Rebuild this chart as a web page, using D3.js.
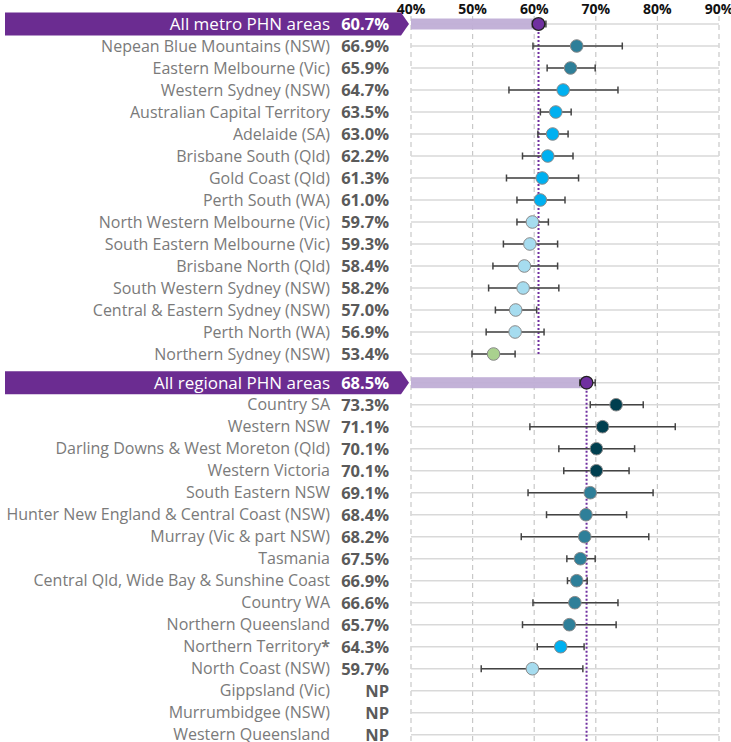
<!DOCTYPE html>
<html>
<head>
<meta charset="utf-8">
<script src="https://cdn.jsdelivr.net/npm/d3@7"></script>
<style>
  body { margin: 0; background: #fff; }
  svg { font-family: "Open Sans", "Noto Sans", sans-serif; }
</style>
</head>
<body>
<svg id="chart" width="731" height="742"></svg>
<script>
// Rows, in order top to bottom (headers first in each group)
const metroNames = ["All metro PHN areas", "Nepean Blue Mountains (NSW)", "Eastern Melbourne (Vic)", "Western Sydney (NSW)",
  "Australian Capital Territory", "Adelaide (SA)", "Brisbane South (Qld)", "Gold Coast (Qld)", "Perth South (WA)",
  "North Western Melbourne (Vic)", "South Eastern Melbourne (Vic)", "Brisbane North (Qld)", "South Western Sydney (NSW)",
  "Central & Eastern Sydney (NSW)", "Perth North (WA)", "Northern Sydney (NSW)"];
const metroValues = [60.7, 66.9, 65.9, 64.7, 63.5, 63.0, 62.2, 61.3, 61.0, 59.7, 59.3, 58.4, 58.2, 57.0, 56.9, 53.4];
const metroLow  = [59.7, 59.8, 62.1, 55.9, 61.0, 60.6, 58.1, 55.5, 57.2, 57.2, 55.0, 53.3, 52.6, 53.7, 52.2, 49.9];
const metroHigh = [61.9, 74.3, 69.9, 73.6, 66.0, 65.5, 66.3, 67.2, 65.0, 62.3, 63.8, 63.8, 64.0, 60.4, 61.6, 56.9];

const regionalNames = ["All regional PHN areas", "Country SA", "Western NSW", "Darling Downs & West Moreton (Qld)",
  "Western Victoria", "South Eastern NSW", "Hunter New England & Central Coast (NSW)", "Murray (Vic & part NSW)",
  "Tasmania", "Central Qld, Wide Bay & Sunshine Coast", "Country WA", "Northern Queensland", "Northern Territory",
  "North Coast (NSW)", "Gippsland (Vic)", "Murrumbidgee (NSW)", "Western Queensland"];
const regionalValues = [68.5, 73.3, 71.1, 70.1, 70.1, 69.1, 68.4, 68.2, 67.5, 66.9, 66.6, 65.7, 64.3, 59.7, null, null, null];
const regionalLow  = [67.4, 69.1, 59.3, 64.0, 64.8, 59.0, 62.0, 57.9, 65.3, 65.4, 59.8, 58.1, 60.5, 51.4, null, null, null];
const regionalHigh = [69.9, 77.7, 82.9, 76.3, 75.4, 79.3, 75.0, 78.6, 69.9, 68.6, 73.6, 73.3, 68.1, 67.9, null, null, null];
const footnoted = ["Northern Territory"];

const ticks = [40, 50, 60, 70, 80, 90];

// colour bands
const bandBreaks = [55, 60, 65, 70];
const bandColors = ["#a9d18e", "#a6dcef", "#00b0f0", "#2e7f99", "#003f4f"];
const headerColor = "#6b2c91";
const headerBar = "#c0aed6";

const rows = [];
metroNames.forEach((n, i) => rows.push({name: n, value: metroValues[i], lo: metroLow[i], hi: metroHigh[i], header: i === 0, group: 0, idx: i}));
regionalNames.forEach((n, i) => rows.push({name: n, value: regionalValues[i], lo: regionalLow[i], hi: regionalHigh[i], header: i === 0, group: 1, idx: metroNames.length + i}));

const svg = d3.select("#chart");

const x = d3.scaleLinear().domain([40, 90]).range([411, 719]);
const rowScale = d3.scaleLinear().domain([0, 1]).range([24, 46]);
const groupGap = 6.7;
const y = d => rowScale(d.idx) + (d.group ? groupGap : 0);
const color = d3.scaleThreshold().domain(bandBreaks).range(bandColors);

const labelX = 330, valueX = 389;

// vertical dashed grid
svg.append("g").selectAll("line")
  .data(ticks)
  .join("line")
    .attr("x1", d => x(d)).attr("x2", d => x(d))
    .attr("y1", 16).attr("y2", 742)
    .attr("stroke", "#c8c8c8")
    .attr("stroke-width", 1.2)
    .attr("stroke-dasharray", "5,4");

// top axis labels
svg.append("g").selectAll("text")
  .data(ticks)
  .join("text")
    .attr("x", d => x(d))
    .attr("y", 14)
    .attr("text-anchor", "middle")
    .style("font-size", "14px")
    .style("font-weight", "bold")
    .attr("fill", "#111")
    .text(d => d + "%");

// header banners
const headers = rows.filter(d => d.header);
svg.append("g").selectAll("path")
  .data(headers)
  .join("path")
    .attr("d", d => {
      const c = y(d), h = 11.5;
      return `M5,${c - h}L401,${c - h}L409,${c}L401,${c + h}L5,${c + h}Z`;
    })
    .attr("fill", headerColor);

// horizontal row lines
svg.append("g").selectAll("line")
  .data(rows)
  .join("line")
    .attr("x1", x(40)).attr("x2", x(90))
    .attr("y1", d => y(d)).attr("y2", d => y(d))
    .attr("stroke", "#d9d9d9")
    .attr("stroke-width", 1.5);

// header bars
svg.append("g").selectAll("rect")
  .data(headers)
  .join("rect")
    .attr("x", x(40))
    .attr("y", d => y(d) - 5.5)
    .attr("width", d => x(d.value) - x(40))
    .attr("height", 11)
    .attr("fill", headerBar)
    .attr("opacity", 0.95);

// average reference lines
headers.forEach(h => {
  const members = rows.filter(r => r.group === h.group);
  svg.append("line")
    .attr("x1", x(h.value)).attr("x2", x(h.value))
    .attr("y1", y(h)).attr("y2", h.group ? 742 : y(members[members.length - 1]) + 2)
    .attr("stroke", "#7030a0")
    .attr("stroke-width", 2)
    .attr("stroke-dasharray", "2,2");
});

// error bars
const withData = rows.filter(d => d.value != null);
const eb = svg.append("g").attr("stroke", "#444").attr("stroke-width", 1.5);
eb.selectAll("line.bar")
  .data(withData)
  .join("line")
    .attr("class", "bar")
    .attr("x1", d => x(d.lo)).attr("x2", d => x(d.hi))
    .attr("y1", d => y(d)).attr("y2", d => y(d));
eb.selectAll("line.capL")
  .data(withData)
  .join("line")
    .attr("class", "capL")
    .attr("x1", d => x(d.lo)).attr("x2", d => x(d.lo))
    .attr("y1", d => y(d) - 3.5).attr("y2", d => y(d) + 3.5);
eb.selectAll("line.capR")
  .data(withData)
  .join("line")
    .attr("class", "capR")
    .attr("x1", d => x(d.hi)).attr("x2", d => x(d.hi))
    .attr("y1", d => y(d) - 3.5).attr("y2", d => y(d) + 3.5);

// points
svg.append("g").selectAll("circle")
  .data(withData)
  .join("circle")
    .attr("cx", d => x(d.value))
    .attr("cy", d => y(d))
    .attr("r", 6.3)
    .attr("fill", d => d.header ? "#7030a0" : color(d.value))
    .attr("stroke", d => d.header ? "#222" : "#8a8a8a")
    .attr("stroke-width", d => d.header ? 1.3 : 1);

// labels
const labels = svg.append("g").selectAll("text")
  .data(rows)
  .join("text")
    .attr("x", labelX)
    .attr("y", d => y(d))
    .attr("dy", "0.36em")
    .attr("text-anchor", "end")
    .style("font-size", d => d.header ? "17px" : "16px")
    .attr("fill", d => d.header ? "#fff" : "#7a7a7a");
labels.append("tspan").text(d => d.name);
labels.filter(d => footnoted.includes(d.name))
  .append("tspan")
    .style("font-weight", "bold")
    .text("*");

svg.append("g").selectAll("text")
  .data(rows)
  .join("text")
    .attr("x", valueX)
    .attr("y", d => y(d))
    .attr("dy", "0.36em")
    .attr("text-anchor", "end")
    .style("font-size", "16.5px")
    .style("font-weight", "bold")
    .attr("fill", d => d.header ? "#fff" : "#5a5a5a")
    .text(d => d.value == null ? "NP" : d.value.toFixed(1) + "%");
</script>
</body>
</html>
